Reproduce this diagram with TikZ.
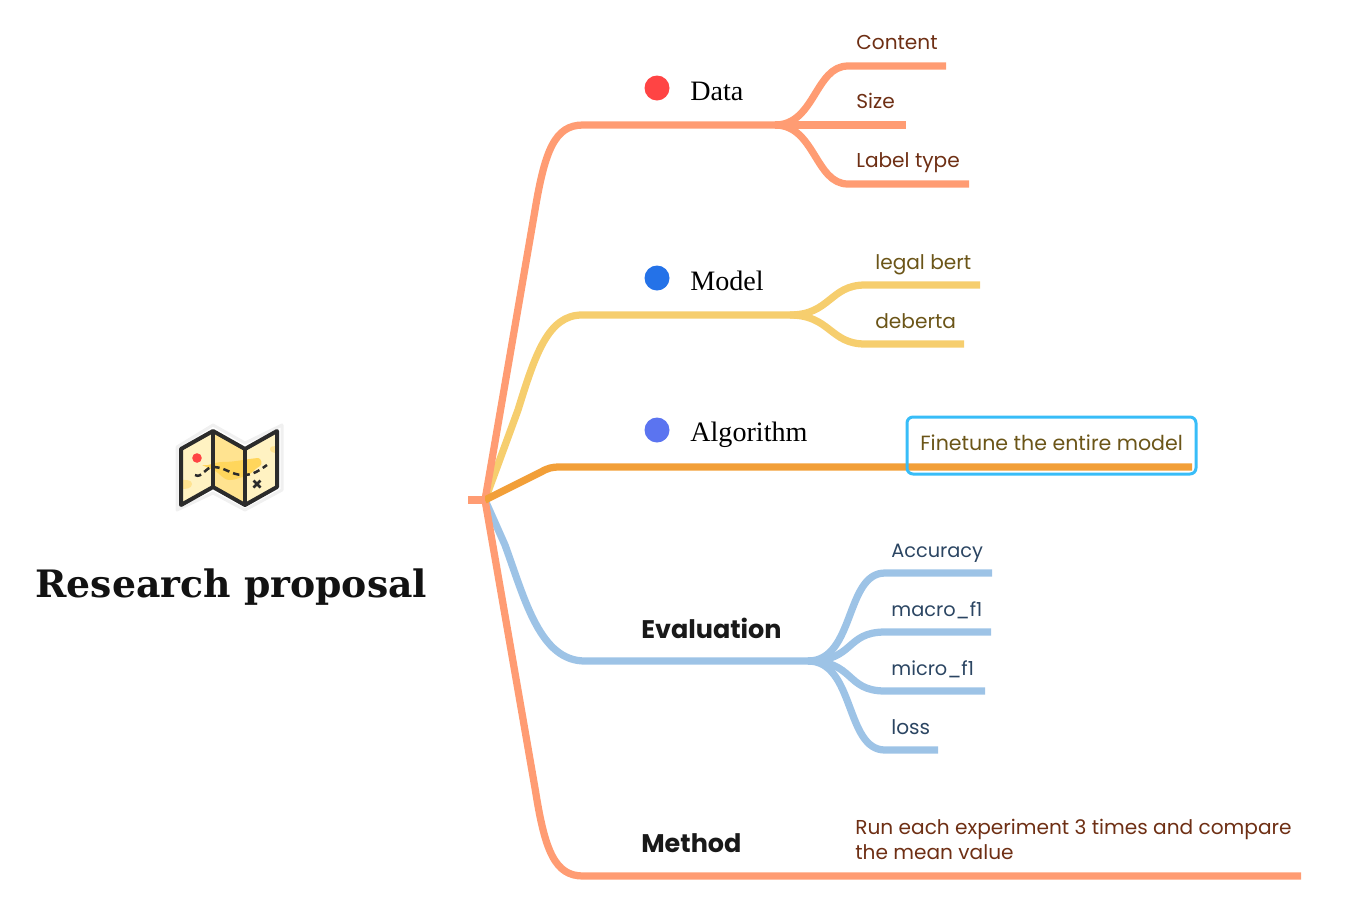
\documentclass[tikz,border=0pt]{standalone}
\usepackage{fontspec}
\setmainfont{Liberation Serif}
\newfontfamily\labelfont{Poppins}
\newfontfamily\titlefont{DejaVu Serif}
\definecolor{orangeline}{HTML}{FF9C73}
\definecolor{yellowline}{HTML}{F6CE6E}
\definecolor{amberline}{HTML}{F29F38}
\definecolor{blueline}{HTML}{9DC3E6}
\definecolor{browntext}{HTML}{6E2F14}
\definecolor{olivetext}{HTML}{6B5518}
\definecolor{navytext}{HTML}{2B4562}
\definecolor{mapink}{HTML}{2B2B2B}
\definecolor{maplight}{HTML}{FFF2C2}
\definecolor{mapmid}{HTML}{FFE390}
\definecolor{mapblob}{HTML}{FFD65C}
\definecolor{datared}{HTML}{FF4444}
\definecolor{modelblue}{HTML}{2472E8}
\definecolor{algoblue}{HTML}{5B74F0}
\definecolor{boxcyan}{HTML}{38BDF8}
\tikzset{
  branch/.style={line width=.145cm,line join=round},
  leaf/.style={font=\labelfont\fontsize{11.45}{14.2}\selectfont,anchor=base west,inner sep=0pt},
  topic/.style={font=\fontsize{16}{18}\selectfont,anchor=base west,inner sep=0pt},
  headtopic/.style={font=\labelfont\bfseries\fontsize{14.5}{18}\selectfont,anchor=base west,inner sep=0pt,text=black!90},
  topicdot/.style={circle,minimum size=.5cm,inner sep=0pt},
}
\begin{document}
\begin{tikzpicture}[x=.02cm,y=-.02cm]
\useasboundingbox (0,0) rectangle (1350,914);

% map icon
\fill[white,draw=black!6,line width=.06cm,line join=round] (177,447)--(213,425)--(245,443)--(282,425)--(282,490)--(245,510)--(213,493)--(177,510)--cycle;
\fill[maplight] (181,449)--(213,431)--(245,449)--(277,431)--(277,487)--(245,505)--(213,487)--(181,505)--cycle;
\fill[mapmid] (213,431)--(245,449)--(245,505)--(213,487)--cycle;
\fill[mapblob] (202,465) to[out=-10,in=180] (222,462) to[out=0,in=185] (258,458) to[out=5,in=30] (260,466) to[out=210,in=10] (243,477) to[out=190,in=0] (230,480) to[out=180,in=-20] (213,470)--cycle;
\fill[mapmid] (181,480) to[out=0,in=90] (192,484) to[out=-90,in=0] (181,489)--cycle;
\fill[mapmid] (277,446) to[out=180,in=90] (270,449) to[out=-90,in=180] (277,453)--cycle;
\draw[mapink,line width=.08cm,line join=round] (181,449)--(213,431)--(245,449)--(277,431)--(277,487)--(245,505)--(213,487)--(181,505)--cycle;
\draw[mapink,line width=.07cm] (213,431)--(213,487) (245,449)--(245,505);
\draw[mapink,line width=.05cm,dash pattern=on .13cm off .08cm] (195,475) to[out=-30,in=180] (213,467) to[out=0,in=180] (243,475) to[out=0,in=215] (267,465);
\fill[datared] (197,458) circle (4.8);
\draw[mapink,line width=.05cm] (253.5,480.5)--(260.5,487.5) (260.5,480.5)--(253.5,487.5);

\node[font=\titlefont\bfseries\fontsize{21.5}{24}\selectfont,inner sep=0pt,anchor=base west,text=black!93] (title) at (35,597) {Research proposal};

% hub and main lines
\coordinate (stub) at (468,500);
\coordinate (hub) at (485,500);
\coordinate (dataend) at (775,125);
\coordinate (modelend) at (790,315);
\coordinate (algoend) at (1192,467);
\coordinate (evalend) at (808,661);
\coordinate (methodend) at (1301,876);

\draw[branch,blueline] (hub)--(505,545) .. controls (525,600) and (540,661) .. (585,661)--(evalend);
\draw[branch,yellowline] (hub)--(518,410) .. controls (535,355) and (548,315) .. (582,315)--(modelend);
\draw[branch,orangeline] (hub)--(535,210) .. controls (545,150) and (555,125) .. (583,125)--(dataend);
\draw[branch,orangeline] (hub)--(535.5,791) .. controls (545,851) and (555,876) .. (583,876)--(methodend);
\draw[branch,amberline] (hub)--(541,472) .. controls (548,468) and (552,467) .. (560,467)--(algoend);
\draw[branch,orangeline] (stub)--(hub);

% children of each topic
\foreach \ya/\xe/\nm in {66/946/a,125/906/b,184/969/c}
{
    \coordinate (data\nm) at (\xe,\ya);
    \draw[branch,orangeline] (dataend) .. controls (815,125) and (815,\ya) .. (848,\ya)--(data\nm);
}
\foreach \ya/\xe/\nm in {285/980/a,344/964/b}
{
    \coordinate (model\nm) at (\xe,\ya);
    \draw[branch,yellowline] (modelend) .. controls (830,315) and (830,\ya) .. (865,\ya)--(model\nm);
}
\foreach \ya/\xe/\nm in {573/992/a,632/991/b,691/985/c,750/938/d}
{
    \coordinate (eval\nm) at (\xe,\ya);
    \draw[branch,blueline] (evalend) .. controls (855,661) and (845,\ya) .. (885,\ya)--(eval\nm);
}

% topics
\node[topicdot,fill=datared] (datadot) at (657,88) {};
\node[topicdot,fill=modelblue] (modeldot) at (657,278) {};
\node[topicdot,fill=algoblue] (algodot) at (657,430) {};
\node[topic] (data) at (690,100) {Data};
\node[topic] (model) at (690,290) {Model};
\node[topic] (algo) at (690,441) {Algorithm};
\node[headtopic] (eval) at (641,638) {Evaluation};
\node[headtopic] (method) at (641,852) {Method};

% leaves
\node[leaf,text=browntext] (content) at (856,49) {Content};
\node[leaf,text=browntext] (size) at (856,108) {Size};
\node[leaf,text=browntext] (labeltype) at (856,167) {Label type};
\node[leaf,text=olivetext] (legal) at (875,269) {legal bert};
\node[leaf,text=olivetext] (deberta) at (875,328) {deberta};
\node[leaf,text=olivetext,font=\labelfont\fontsize{11.7}{14}\selectfont] (finetune) at (920,450) {Finetune the entire model};
\node[leaf,text=navytext,font=\labelfont\fontsize{11}{14}\selectfont] (accuracy) at (891,557) {Accuracy};
\node[leaf,text=navytext,font=\labelfont\fontsize{11}{14}\selectfont] (macro) at (891,616) {macro\_f1};
\node[leaf,text=navytext,font=\labelfont\fontsize{11}{14}\selectfont] (micro) at (891,675) {micro\_f1};
\node[leaf,text=navytext] (loss) at (891,734) {loss};
\node[leaf,text=browntext,align=left,anchor=west] (run) at (855,839.5) {Run each experiment 3 times and compare\\the mean value};

\draw[boxcyan,line width=.06cm,rounded corners=.12cm] (907,417) rectangle (1196,474);
\end{tikzpicture}
\end{document}
